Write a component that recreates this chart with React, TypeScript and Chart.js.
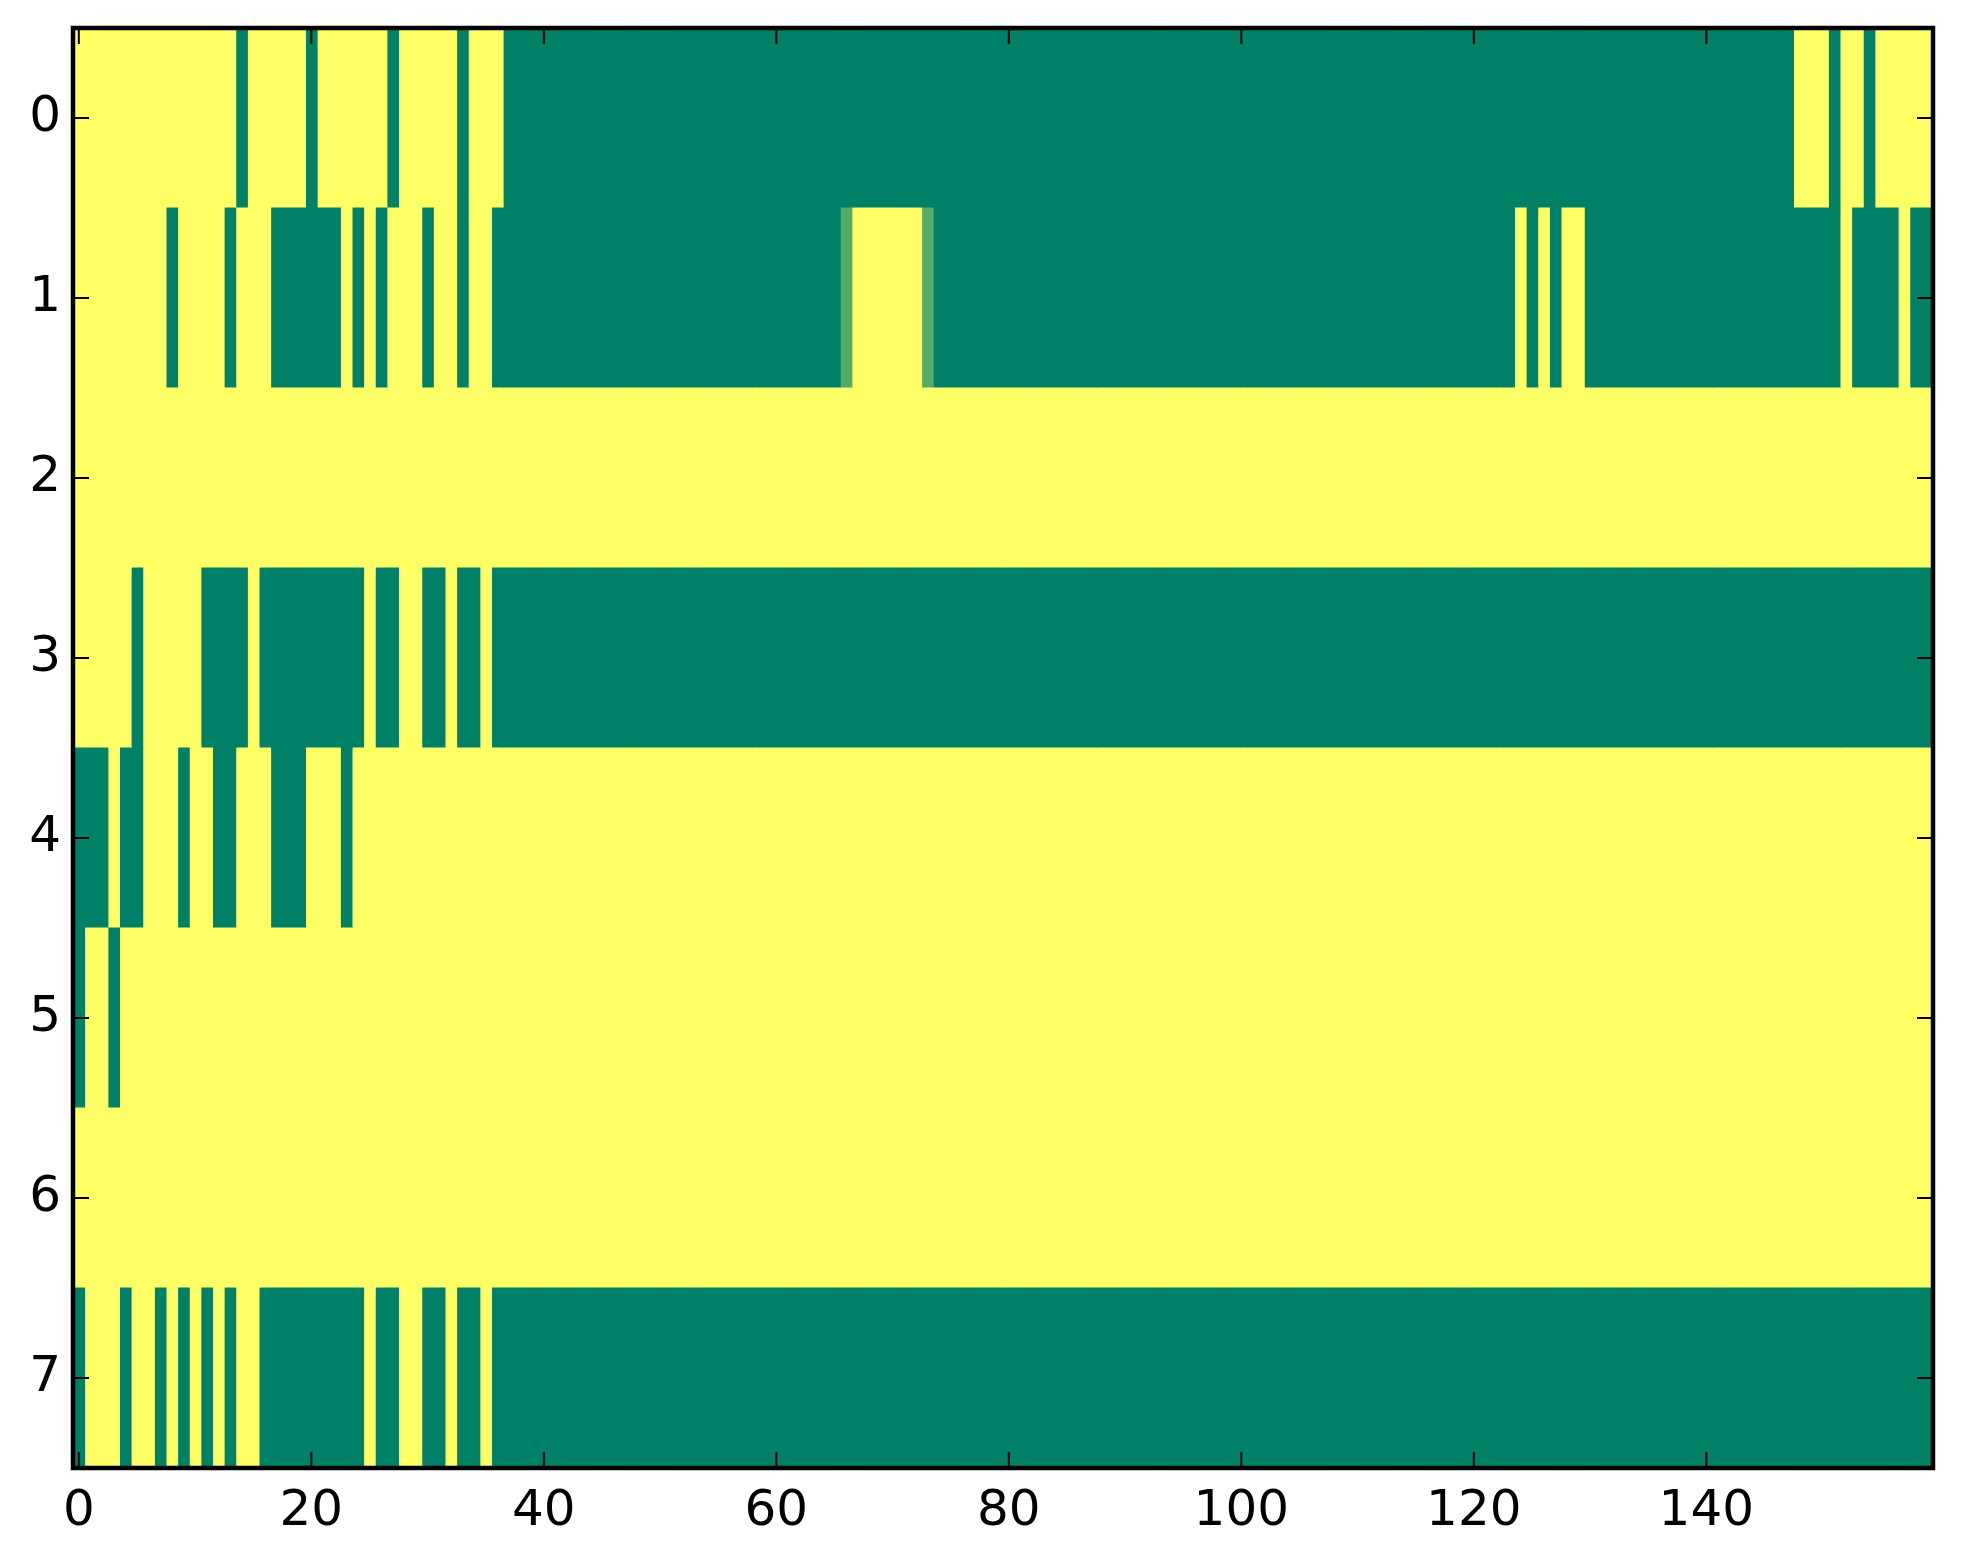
import React, { useRef, useEffect } from 'react';
import { Chart, BarController, BarElement, LinearScale, CategoryScale } from 'chart.js';

Chart.register(BarController, BarElement, LinearScale, CategoryScale);

// row tick labels (top to bottom) and column ticks
const rowLabels = ['0', '1', '2', '3', '4', '5', '6', '7'];
const xTickValues = [0, 20, 40, 60, 80, 100, 120, 140];

// cell codes, 10 columns per chunk: '0' = low, '1' = high, 'm' = in between
const row0 = [
  '1111111111', '1111011111', '0111111011', '1110111000',
  '0000000000', '0000000000', '0000000000', '0000000000',
  '0000000000', '0000000000', '0000000000', '0000000000',
  '0000000000', '0000000000', '0000000011', '1011011111',
];
const row1 = [
  '1111111101', '1110111000', '0001010111', '0110110000',
  '0000000000', '0000000000', '000000m111', '111m000000',
  '0000000000', '0000000000', '0000000000', '0000000000',
  '0000101011', '0000000000', '0000000000', '0010000100',
];
const row2 = [
  '1111111111', '1111111111', '1111111111', '1111111111',
  '1111111111', '1111111111', '1111111111', '1111111111',
  '1111111111', '1111111111', '1111111111', '1111111111',
  '1111111111', '1111111111', '1111111111', '1111111111',
];
const row3 = [
  '1111101111', '1000010000', '0000010011', '0010010000',
  '0000000000', '0000000000', '0000000000', '0000000000',
  '0000000000', '0000000000', '0000000000', '0000000000',
  '0000000000', '0000000000', '0000000000', '0000000000',
];
const row4 = [
  '0001001110', '1100111000', '1110111111', '1111111111',
  '1111111111', '1111111111', '1111111111', '1111111111',
  '1111111111', '1111111111', '1111111111', '1111111111',
  '1111111111', '1111111111', '1111111111', '1111111111',
];
const row5 = [
  '0110111111', '1111111111', '1111111111', '1111111111',
  '1111111111', '1111111111', '1111111111', '1111111111',
  '1111111111', '1111111111', '1111111111', '1111111111',
  '1111111111', '1111111111', '1111111111', '1111111111',
];
const row6 = [
  '1111111111', '1111111111', '1111111111', '1111111111',
  '1111111111', '1111111111', '1111111111', '1111111111',
  '1111111111', '1111111111', '1111111111', '1111111111',
  '1111111111', '1111111111', '1111111111', '1111111111',
];
const row7 = [
  '0111011010', '1010110000', '0000010011', '0010010000',
  '0000000000', '0000000000', '0000000000', '0000000000',
  '0000000000', '0000000000', '0000000000', '0000000000',
  '0000000000', '0000000000', '0000000000', '0000000000',
];

const cellLevels: Record<string, number> = { '0': 0, '1': 1, m: 0.33 };

const gridRows = [row0, row1, row2, row3, row4, row5, row6, row7].map((chunks) =>
  chunks.join('').split('').map((ch) => cellLevels[ch])
);
const columnCount = gridRows[0].length;

// matplotlib "summer" colormap
const summer = (v: number) =>
  `rgb(${Math.round(255 * v)}, ${Math.round(255 * (0.5 + v / 2))}, 102)`;

const TICK_LEN = 16;

const frameAndTicks = {
  id: 'frameAndTicks',
  afterDraw(chart: any) {
    const { ctx, chartArea, scales } = chart;
    const { left, right, top, bottom } = chartArea;
    ctx.save();
    ctx.strokeStyle = '#000';
    ctx.lineWidth = 2;
    ctx.beginPath();
    xTickValues.forEach((v) => {
      const px = scales.x.getPixelForValue(v);
      ctx.moveTo(px, bottom);
      ctx.lineTo(px, bottom - TICK_LEN);
      ctx.moveTo(px, top);
      ctx.lineTo(px, top + TICK_LEN);
    });
    rowLabels.forEach((_, i) => {
      const py = scales.y.getPixelForValue(i);
      ctx.moveTo(left, py);
      ctx.lineTo(left + TICK_LEN, py);
      ctx.moveTo(right, py);
      ctx.lineTo(right - TICK_LEN, py);
    });
    ctx.stroke();
    ctx.lineWidth = 4.5;
    ctx.strokeRect(left, top, right - left, bottom - top);
    ctx.restore();
  },
};

const App: React.FC = () => {
  const canvasRef = useRef<HTMLCanvasElement>(null);

  useEffect(() => {
    if (!canvasRef.current) return;

    const datasets = [];
    for (let c = 0; c < columnCount; c++) {
      datasets.push({
        data: rowLabels.map(() => [c - 0.5, c + 0.5]),
        backgroundColor: gridRows.map((row) => summer(row[c])),
        borderWidth: 0,
        barPercentage: 1,
        categoryPercentage: 1,
        grouped: false,
        inflateAmount: 0.5,
      });
    }

    const tickFont = { family: 'DejaVu Sans', size: 50 };

    const chart = new Chart(canvasRef.current, {
      type: 'bar',
      data: { labels: rowLabels, datasets: datasets as any },
      plugins: [frameAndTicks],
      options: {
        animation: false,
        responsive: false,
        indexAxis: 'y',
        layout: { padding: { left: 0, top: 28, right: 30, bottom: 0 } },
        plugins: { legend: { display: false }, tooltip: { enabled: false } },
        scales: {
          x: {
            type: 'linear',
            min: -0.5,
            max: columnCount - 0.5,
            grid: { display: false, drawTicks: false, tickLength: 0 },
            border: { display: false },
            afterBuildTicks: (scale: any) => {
              scale.ticks = xTickValues.map((v) => ({ value: v }));
            },
            afterFit: (scale: any) => {
              scale.height = 96;
              scale.paddingLeft = 0;
              scale.paddingRight = 0;
            },
            ticks: { font: tickFont, color: '#000', padding: 14, maxRotation: 0, autoSkip: false },
          },
          y: {
            type: 'category',
            grid: { display: false, drawTicks: false, tickLength: 0 },
            border: { display: false },
            afterFit: (scale: any) => {
              scale.width = 73;
              scale.paddingTop = 0;
              scale.paddingBottom = 0;
            },
            ticks: { font: tickFont, color: '#000', padding: 12, autoSkip: false },
          },
        },
      },
    });

    return () => {
      chart.destroy();
    };
  }, []);

  return (
    <div style={{ position: 'absolute', left: 0, top: 0, width: 1963, height: 1564, background: '#fff' }}>
      <canvas ref={canvasRef} width={1963} height={1564} style={{ display: 'block' }} />
    </div>
  );
};

export default App;
